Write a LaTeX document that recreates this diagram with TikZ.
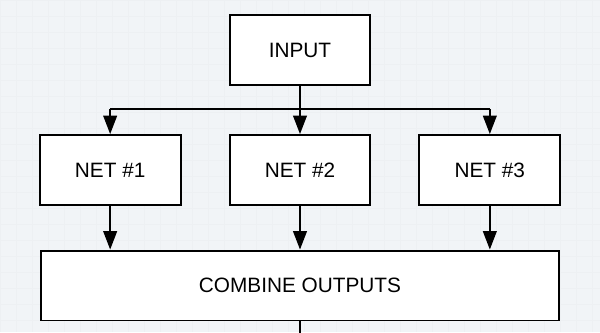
\documentclass[tikz,border=0pt]{standalone}
\usepackage{fontspec}
\setmainfont{Liberation Sans}
\usepackage{tikz}
\usetikzlibrary{positioning,arrows.meta,calc}
\definecolor{bgpaper}{HTML}{F1F4F7}
\definecolor{bggrid}{HTML}{EDF0F3}

\begin{document}
\begin{tikzpicture}[font=\fontsize{14.8}{17}\selectfont,
  box/.style={draw,line width=1.4pt,fill=white,align=center,minimum width=35.25mm,minimum height=17.5mm,inner sep=0pt},
  ar/.style={-{Triangle[length=4.6mm,width=3.4mm]},line width=1.4pt}]
% background and faint grid
\fill[bgpaper] (0,0) rectangle (15,-8.3);
\draw[bggrid,line width=0.3pt,step=0.4] (0,-8.3) grid (15,0);
\useasboundingbox (0,0) rectangle (15,-8.3);
\node[box] (input) at (7.5,-1.25) {INPUT};
\node[box,below=12mm of input] (net2) {NET \#2};
\node[box,left=11.75mm of net2] (net1) {NET \#1};
\node[box,right=11.75mm of net2] (net3) {NET \#3};
\node[box,minimum width=129.75mm,below=10.9mm of net2] (combine) {COMBINE OUTPUTS};
% branches
\coordinate (br) at ($(input.south)+(0,-0.575)$);
\draw[line width=1.4pt] (br -| net1) -- (br -| net3);
\draw[ar] (input) -- (net2);
\draw[ar] (br -| net1) -- (net1);
\draw[ar] (br -| net3) -- (net3);
\foreach \n in {net1,net2,net3}
  \draw[ar] (\n) -- (\n |- combine.north);
\coordinate (out) at ($(combine.south)+(0,-0.4)$);
\draw[line width=1.4pt] (combine) -- (out);
\end{tikzpicture}
\end{document}
